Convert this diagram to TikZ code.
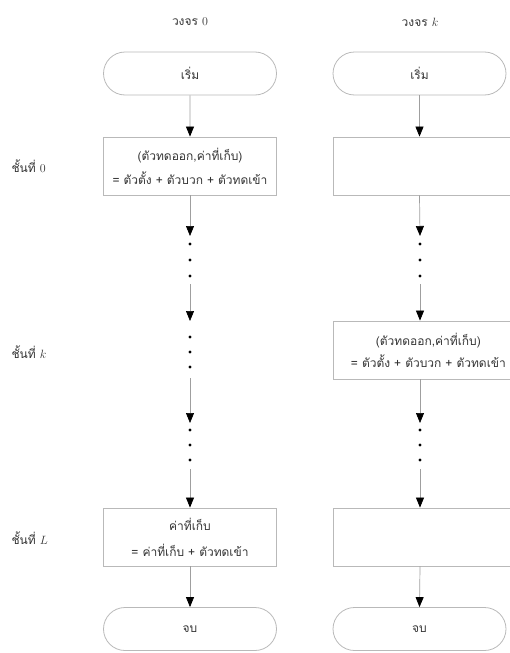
\documentclass[tikz,border=0pt]{standalone}
\usepackage{fontspec}
\newfontfamily\thaifont[Script=Thai]{Loma}
\usetikzlibrary{arrows.meta,shapes.misc}
\begin{document}
\begin{tikzpicture}[x=1pt,y=-1pt,
  txt/.style={font=\thaifont\fontsize{12}{14}\selectfont, text=black!80},
  term/.style={txt, rounded rectangle, draw=gray!55, line width=0.8pt,
    minimum width=173pt, minimum height=43pt, inner sep=0pt},
  procbox/.style={txt, rectangle, draw=gray!55, line width=0.8pt,
    minimum width=173pt, minimum height=58pt, inner sep=0pt, align=center},
  procboxk/.style={procbox, minimum width=190pt, anchor=west},
  conn/.style={draw=gray!75, line width=0.7pt},
  arr/.style={conn, -{Triangle[length=10pt,width=8pt,color=black]}},
  dotm/.style={fill=black},
  lbl/.style={txt, anchor=west}
]
\useasboundingbox (0,0) rectangle (509,653);

% titles
\node[txt] (t0) at (190,22) {วงจร {\rmfamily 0}};
\node[txt] (tk) at (420,22) {วงจร $k$};

% layer labels
\node[lbl] (l0) at (8,166) {ชั้นที่ {\rmfamily 0}};
\node[lbl] (lk) at (8,352) {ชั้นที่ $k$};
\node[lbl] (lL) at (8,538) {ชั้นที่ $L$};

% column 0
\node[term] (s0) at (190,73.5) {เริ่ม};
\node[procbox] (b00) at (190,166) {(ตัวทดออก,ค่าที่เก็บ)\\[8pt]= ตัวตั้ง + ตัวบวก + ตัวทดเข้า};
\node[procbox] (b0L) at (190,537) {ค่าที่เก็บ\\[12pt]= ค่าที่เก็บ + ตัวทดเข้า};
\node[term] (e0) at (190,629) {จบ};

\coordinate (c0a) at (190,236);
\coordinate (c0b) at (190,284);
\coordinate (c0c) at (190,321);
\coordinate (c0d) at (190,378);
\coordinate (c0e) at (190,423);
\coordinate (c0f) at (190,469);

\draw[arr] (s0) -- (b00);
\draw[arr] (b00) -- (c0a);
\draw[arr] (c0b) -- (c0c);
\draw[arr] (c0d) -- (c0e);
\draw[arr] (c0f) -- (b0L);
\draw[arr] (b0L) -- (e0);
\foreach \y in {244,260,276,337,352,367,430,445,460}
  \fill[dotm] (190,\y) circle (1.7pt);

% column k
\node[term] (sk) at (419.5,73.5) {เริ่ม};
\node[procboxk] (bk0) at (333,166) {};
\node[procboxk] (bkk) at (333,350) {(ตัวทดออก,ค่าที่เก็บ)\\[6pt]= ตัวตั้ง + ตัวบวก + ตัวทดเข้า};
\node[procboxk] (bkL) at (333,537) {};
\node[term] (ek) at (419.5,629) {จบ};

\coordinate (cka) at (420,236);
\coordinate (ckb) at (420,284);
\coordinate (ckc) at (420,423);
\coordinate (ckd) at (420,469);

\draw[arr] (sk.south) -- (sk.south |- bk0.north);
\draw[arr] (sk.south |- bk0.south) -- (cka);
\draw[arr] (ckb) -- (ckb |- bkk.north);
\draw[arr] (ckb |- bkk.south) -- (ckc);
\draw[arr] (ckd) -- (ckd |- bkL.north);
\draw[arr] (ckd |- bkL.south) -- (ek.north);
\foreach \y in {244,260,276,430,445,460}
  \fill[dotm] (420,\y) circle (1.7pt);
\end{tikzpicture}
\end{document}
